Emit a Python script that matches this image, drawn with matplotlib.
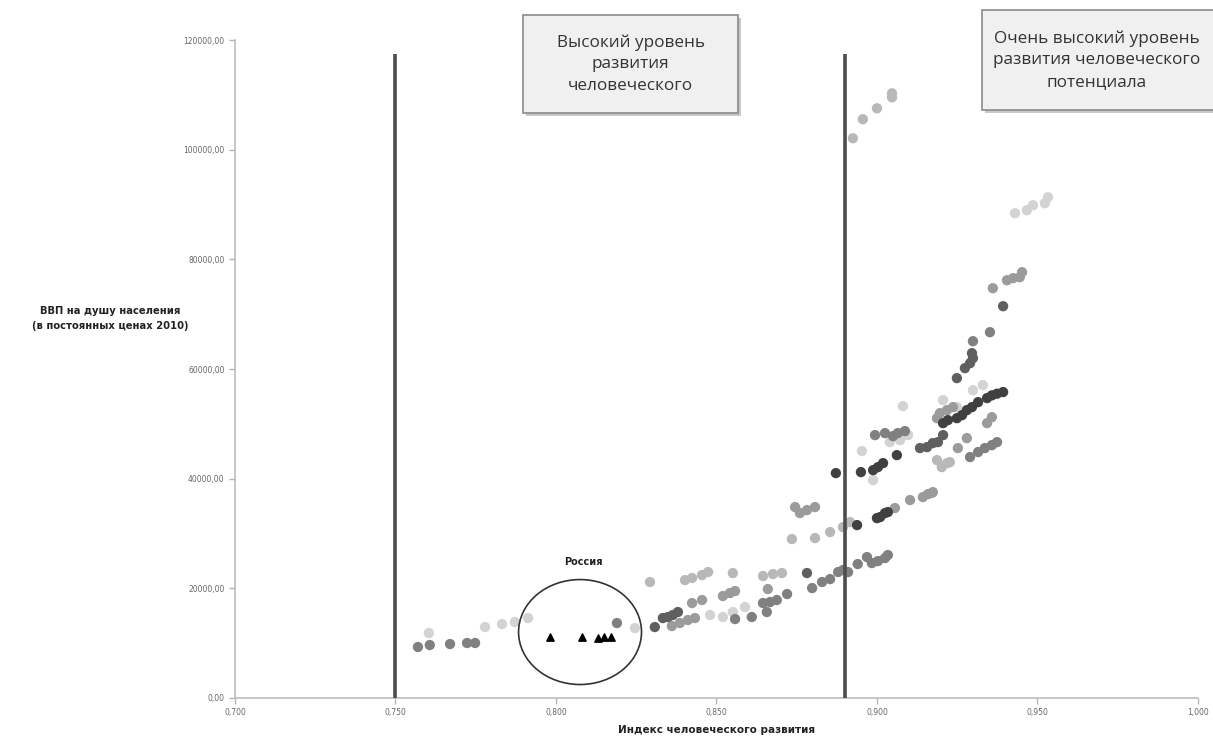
import matplotlib

matplotlib.use("Agg")
import matplotlib.pyplot as plt
from matplotlib.patches import Ellipse, Rectangle
from matplotlib.ticker import FuncFormatter

# HDI (x) and GDP per capita (y), grouped by grey shade
light_x = [0.7604, 0.7779, 0.7832, 0.7872, 0.7913, 0.8246, 0.848, 0.852, 0.8551, 0.8589,
           0.8953, 0.9081, 0.8988, 0.904, 0.9072, 0.9097, 0.9206, 0.9249, 0.9299, 0.933,
           0.943, 0.9467, 0.9486, 0.9523, 0.9533]
light_y = [11850, 12940, 13490, 13850, 14580, 12760, 15130, 14770, 15680, 16590,
           45030, 53230, 39740, 46670, 47030, 47950, 54330, 53050, 56150, 57060,
           88420, 88960, 89870, 90240, 91330]

lmid_x = [0.8293, 0.8402, 0.8424, 0.8455, 0.8474, 0.8551, 0.8645, 0.8676, 0.8704,
          0.8735, 0.8807, 0.8854, 0.8894, 0.8916, 0.8925, 0.8956, 0.9, 0.9047, 0.9047,
          0.9187, 0.9202, 0.9218, 0.9227, 0.9171]
lmid_y = [21150, 21500, 21880, 22420, 22970, 22790, 22240, 22600, 22790,
          28990, 29170, 30260, 31170, 32080, 102090, 105560, 107550, 109560, 110290,
          43390, 42110, 42840, 43020, 37370]

mid_x = [0.8361, 0.8386, 0.8411, 0.8433, 0.8424, 0.8455, 0.852, 0.8542, 0.8558, 0.866,
         0.8745, 0.876, 0.8782, 0.8807, 0.9361, 0.9405, 0.9424, 0.9445, 0.9452,
         0.9187, 0.9196, 0.9218, 0.9237, 0.9358, 0.9343, 0.9056, 0.9103, 0.9143,
         0.9159, 0.9174, 0.928, 0.9252]
mid_y = [13130, 13670, 14220, 14580, 17320, 17870, 18590, 19140, 19510, 19870,
         34820, 33730, 34270, 34820, 74740, 76200, 76570, 76750, 77660,
         51040, 51950, 52500, 53050, 51220, 50130, 34640, 36100, 36640,
         37190, 37550, 47400, 45580]

mdark_x = [0.757, 0.7607, 0.767, 0.7723, 0.7748, 0.819, 0.8558, 0.861, 0.8657, 0.8645,
           0.8667, 0.8688, 0.872, 0.8798, 0.8829, 0.8854, 0.8879, 0.8894, 0.891, 0.894,
           0.8969, 0.8984, 0.9003, 0.9025, 0.9034, 0.8994, 0.9025, 0.905, 0.9065, 0.9087,
           0.929, 0.9315, 0.9336, 0.9358, 0.9374, 0.9299, 0.9352]
mdark_y = [9300, 9660, 9840, 10030, 10030, 13670, 14400, 14770, 15680, 17320,
           17500, 17870, 18960, 20050, 21150, 21690, 22970, 23330, 22970, 24430,
           25700, 24610, 24970, 25520, 26070, 47950, 48310, 47760, 48310, 48680,
           43940, 44850, 45580, 46120, 46670, 65080, 66720]

dark_x = [0.8308, 0.8782, 0.8333, 0.8349, 0.8364, 0.838, 0.9134, 0.9156, 0.9174, 0.919,
          0.9206, 0.9393, 0.9249, 0.9274, 0.929, 0.9299, 0.9296]
dark_y = [12940, 22790, 14580, 14770, 15130, 15680, 45580, 45760, 46490, 46670,
          47950, 71460, 58340, 60160, 61070, 61980, 62890]

vdark_x = [0.8938, 0.8872, 0.895, 0.8988, 0.9003, 0.9019, 0.9062, 0.9, 0.901, 0.9025,
           0.9034, 0.9206, 0.9221, 0.9249, 0.9265, 0.928, 0.9296, 0.9315, 0.9343,
           0.9358, 0.9374, 0.9393]
vdark_y = [31540, 41020, 41200, 41560, 42110, 42840, 44300, 32810, 33000, 33730,
           33910, 50130, 50680, 51040, 51590, 52500, 53050, 53960, 54700,
           55200, 55500, 55800]

russia_x = [0.798, 0.808, 0.813, 0.815, 0.817]
russia_y = [11100, 11200, 11000, 11100, 11200]

hdi_bounds = [0.750, 0.890]
bound_top = 117500

groups = [
    (light_x, light_y, "#d3d3d3"),
    (lmid_x, lmid_y, "#b8b8b8"),
    (mid_x, mid_y, "#9b9b9b"),
    (mdark_x, mdark_y, "#808080"),
    (dark_x, dark_y, "#5f5f5f"),
    (vdark_x, vdark_y, "#404040"),
]

fig = plt.figure(figsize=(12.13, 7.42), dpi=100)
ax = fig.add_axes([0.1937, 0.0593, 0.7939, 0.8867])

for xs, ys, col in groups:
    ax.scatter(xs, ys, s=55, color=col, edgecolors="none", zorder=2)

ax.scatter(russia_x, russia_y, marker="^", s=28, color="black", zorder=3)
ax.add_patch(Ellipse((0.8075, 12030), 0.0383, 19140, fill=False,
                     edgecolor="#333333", linewidth=1.2, zorder=3))
ax.text(0.8084, 24800, "Россия", ha="center", va="center", fontsize=7,
        fontweight="bold", color="#222222")

ax.vlines(hdi_bounds, 0, bound_top, colors="#4d4d4d", linewidth=2.6, zorder=4)

ax.set_xlim(0.700, 1.000)
ax.set_ylim(0, 120000)
ax.set_xticks([0.70, 0.75, 0.80, 0.85, 0.90, 0.95, 1.00])
ax.set_yticks(range(0, 120001, 20000))
ax.xaxis.set_major_formatter(FuncFormatter(lambda v, p: f"{v:.3f}".replace(".", ",")))
ax.yaxis.set_major_formatter(FuncFormatter(lambda v, p: f"{v:.2f}".replace(".", ",")))
ax.tick_params(axis="both", labelsize=5.5, labelcolor="#666666", color="#b5b5b5",
               length=4, width=1, direction="out")
ax.tick_params(axis="x", pad=3)
for side in ("top", "right"):
    ax.spines[side].set_visible(False)
for side in ("left", "bottom"):
    ax.spines[side].set_color("#bdbdbd")
    ax.spines[side].set_linewidth(1.2)

ax.set_xlabel("Индекс человеческого развития", fontsize=7.5, fontweight="bold",
              color="#222222", labelpad=6)
fig.text(0.091, 0.571, "ВВП на душу населения\n(в постоянных ценах 2010)",
         ha="center", va="center", fontsize=7.2, fontweight="bold",
         color="#222222", linespacing=1.6)

# annotation boxes (figure fractions): x0, y0, width, height, text centre x
boxes = [
    (0.4312, 0.8477, 0.1772, 0.1321, 0.5198, "Высокий уровень\nразвития\nчеловеческого"),
    (0.8096, 0.8518, 0.1950, 0.1347, 0.9044, "Очень высокий уровень\nразвития человеческого\nпотенциала"),
]
for x0, y0, w, h, tx, label in boxes:
    fig.patches.append(Rectangle((x0 + 0.0025, y0 - 0.004), w, h, transform=fig.transFigure,
                                 facecolor="#c8c8c8", edgecolor="none", zorder=1))
    fig.patches.append(Rectangle((x0, y0), w, h, transform=fig.transFigure,
                                 facecolor="#f0f0f0", edgecolor="#8a8a8a",
                                 linewidth=1.2, zorder=2))
    fig.text(tx, y0 + h / 2, label, ha="center", va="center",
             fontsize=12.3, color="#333333", linespacing=1.45,
             family=["Open Sans", "DejaVu Sans"], zorder=3)

fig.savefig("out.png", dpi=100)
